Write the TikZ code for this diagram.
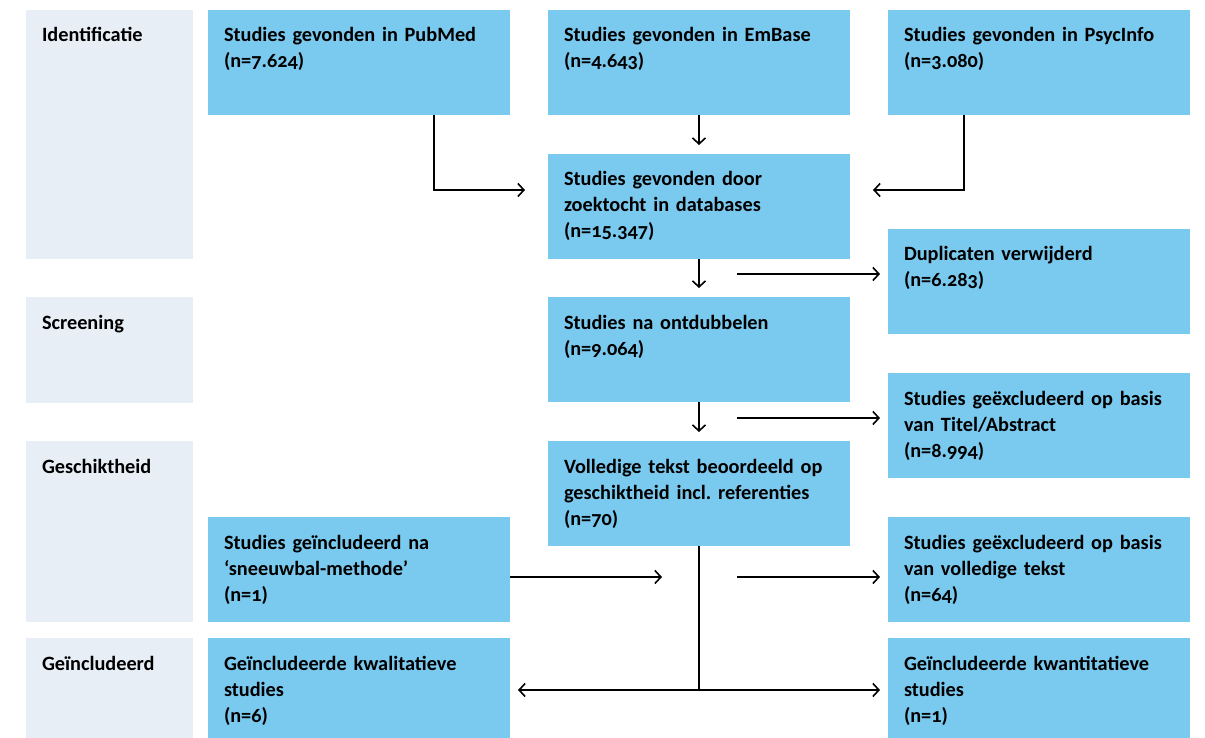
\documentclass[tikz,border=0pt]{standalone}
\usepackage{fontspec}
\setmainfont{Carlito}[Numbers=OldStyle]
\frenchspacing
\usetikzlibrary{arrows.meta}
\definecolor{boxblue}{RGB}{122,201,239}
\definecolor{phasegrey}{RGB}{232,238,245}
\tikzset{
  flowbox/.style={fill=boxblue, anchor=north west, inner xsep=16pt, inner ysep=0pt, outer sep=0pt,
    text width=270pt, align=left, text height=32pt, text depth=73pt,
    font=\bfseries\fontsize{20.3}{26}\selectfont},
  phasebox/.style={flowbox, fill=phasegrey, text width=135pt},
  flow/.style={-{Straight Barb[length=6pt,width=13pt]}, line width=1.6pt},
}
\begin{document}
\begin{tikzpicture}[x=1pt,y=-1pt]
                \useasboundingbox (0,0) rectangle (1205,738);
                \node[phasebox, text depth=217pt] (ident) at (26,10) {Identificatie};
                \node[phasebox, text depth=74pt] (screen) at (26,297) {Screening};
                \node[phasebox, text depth=149pt] (geschikt) at (26,441) {Geschiktheid};
                \node[phasebox, text depth=68pt] (incl) at (26,638) {Geïncludeerd};

                \node[flowbox] (pubmed) at (208,10) {Studies gevonden in PubMed\\(n=7.624)};
                \node[flowbox] (embase) at (548,10) {Studies gevonden in EmBase\\(n=4.643)};
                \node[flowbox] (psyc) at (888,10) {Studies gevonden in PsycInfo\\(n=3.080)};
                \node[flowbox] (db) at (548,154) {Studies gevonden door\\zoektocht in databases\\(n=15.347)};
                \node[flowbox] (dup) at (888,229) {Duplicaten verwijderd\\(n=6.283)};
                \node[flowbox] (ontdub) at (548,297) {Studies na ontdubbelen\\(n=9.064)};
                \node[flowbox] (titel) at (888,373) {Studies geëxcludeerd op basis\\van Titel/Abstract\\(n=8.994)};
                \node[flowbox] (tekst) at (548,441) {Volledige tekst beoordeeld op\\geschiktheid incl. referenties\\(n=70)};
                \node[flowbox] (sneeuw) at (208,517) {Studies geïncludeerd na\\‘sneeuwbal-methode’\\(n=1)};
                \node[flowbox] (excl) at (888,517) {Studies geëxcludeerd op basis\\van volledige tekst\\(n=64)};
                \node[flowbox, text depth=68pt] (kwal) at (208,638) {Geïncludeerde kwalitatieve\\studies\\(n=6)};
                \node[flowbox, text depth=68pt] (kwant) at (888,638) {Geïncludeerde kwantitatieve\\studies\\(n=1)};

                \coordinate (pubmedin) at (525,190);
                \coordinate (psycin) at (873,190);
                \coordinate (dupout) at (737,274);
                \coordinate (titelout) at (737,418);
                \coordinate (sneeuwin) at (662,577);
                \coordinate (exclout) at (737,577);
                \coordinate (split) at (699,690);

                \draw[flow] ([xshift=75pt]pubmed.south) |- (pubmedin);
                \draw[flow, shorten >=9pt] (embase) -- (db);
                \draw[flow] ([xshift=-75pt]psyc.south) |- (psycin);
                \draw[flow, shorten >=9pt] (db) -- (ontdub);
                \draw[flow, shorten >=8pt] (dupout) -- (dupout -| dup.west);
                \draw[flow, shorten >=9pt] (ontdub) -- (tekst);
                \draw[flow, shorten >=8pt] (titelout) -- (titelout -| titel.west);
                \draw[flow] (sneeuw.east |- sneeuwin) -- (sneeuwin);
                \draw[flow, shorten >=8pt] (exclout) -- (exclout -| excl.west);
                \draw[line width=1.6pt] (tekst.south) -- (split);
                \draw[flow, shorten >=8pt] (split) -- (split -| kwal.east);
                \draw[flow, shorten >=8pt] (split) -- (split -| kwant.west);
\end{tikzpicture}
\end{document}
